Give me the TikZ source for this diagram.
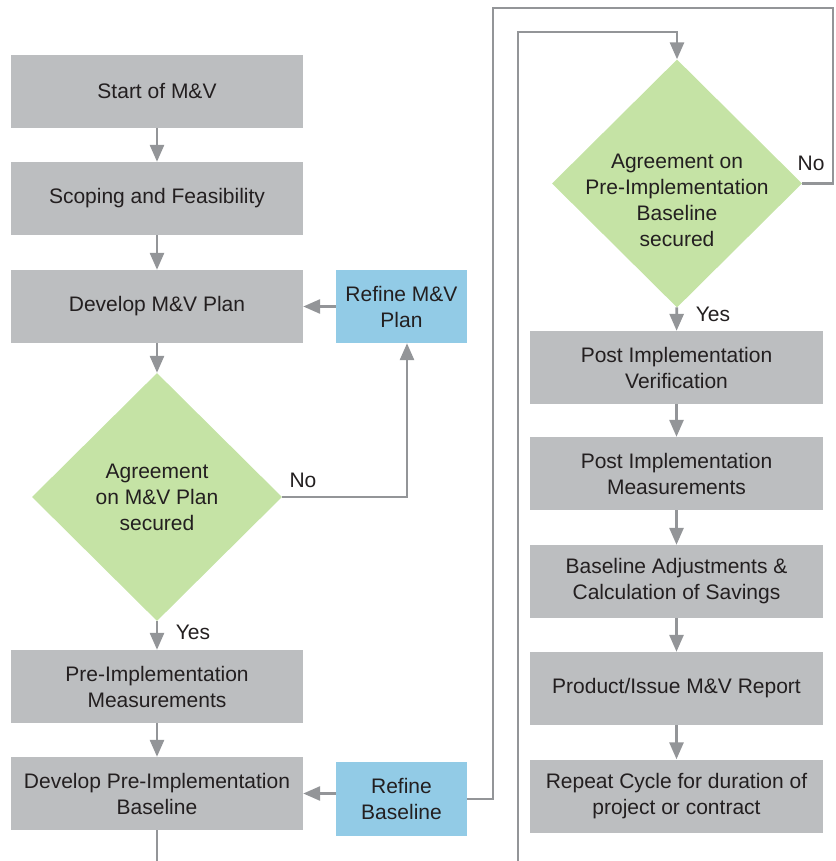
\documentclass[tikz,border=0pt]{standalone}
\usepackage{fontspec}
\setmainfont{Liberation Sans}
\usetikzlibrary{arrows.meta,shapes.geometric,positioning,calc}
\definecolor{boxgray}{RGB}{188,190,192}
\definecolor{diagreen}{RGB}{197,227,165}
\definecolor{refblue}{RGB}{146,203,230}
\definecolor{linegray}{RGB}{147,149,152}
\definecolor{txtgray}{RGB}{35,31,32}

\begin{document}
\begin{tikzpicture}[x=1pt, y=-1pt,
  every node/.style={font=\fontsize{21}{26}\selectfont, text=txtgray, align=center},
  box/.style={fill=boxgray, minimum width=292pt, minimum height=73pt, inner sep=0pt},
  refbox/.style={fill=refblue, minimum width=131pt, minimum height=73pt, inner sep=0pt},
  dia/.style={diamond, fill=diagreen, minimum width=250pt, minimum height=248pt, inner sep=0pt},
  arr/.style={draw=linegray, line width=2.8pt, -{Triangle[width=14pt,length=17pt]}},
  ln/.style={draw=linegray, line width=2.8pt}]
\useasboundingbox (0,0) rectangle (835,861);
\clip (0,0) rectangle (835,861);

\node[box] (start) at (157,91.5) {Start of M\&V};
\node[box] (scope) at (157,198.5) {Scoping and Feasibility};
\node[box] (plan) at (157,306.5) {Develop M\&V Plan};
\node[refbox] (refplan) at (401.5,306.5) {Refine M\&V\\Plan};
\node[dia] (agplan) at (157,497) {Agreement\\on M\&V Plan\\secured};
\node[box] (premeas) at (157,686.5) {Pre-Implementation\\Measurements};
\node[box] (prebase) at (157,793.5) {Develop Pre-Implementation\\Baseline};
\node[refbox, minimum height=74pt] (refbase) at (401.5,799) {Refine\\Baseline};

\node[dia] (agbase) at (677,183.5) {};
\node (agbasetxt) at (677,200) {Agreement on\\Pre-Implementation\\Baseline\\secured};
\node[box, minimum width=293pt] (postver) at (676.5,367.5) {Post Implementation\\Verification};
\node[box, minimum width=293pt] (postmeas) at (676.5,473.5) {Post Implementation\\Measurements};
\node[box, minimum width=293pt] (adjust) at (676.5,581.5) {Baseline Adjustments \&\\Calculation of Savings};
\node[box, minimum width=293pt] (report) at (676.5,688.5) {Product/Issue M\&V Report};
\node[box, minimum width=293pt] (repeat) at (676.5,796) {Repeat Cycle for duration of\\project or contract};

\coordinate (looptop) at (518,32);
\coordinate (nocorner) at (833,8);

\draw[arr] (start) -- (scope);
\draw[arr] (scope) -- (plan);
\draw[arr] (plan) -- (agplan);
\draw[arr] (refplan) -- (plan);
\draw[arr] (agplan.east) -| ([xshift=5.5pt]refplan.south);
\node (noplan) at (303,480) {No};
\draw[arr] (agplan) -- (premeas);
\node (yesplan) at (193,632) {Yes};
\draw[arr] (premeas) -- (prebase);
\draw[arr] (refbase.west |- prebase.east) -- (prebase.east);
\draw[arr] (prebase.south) -- ++(0,60) -| (looptop) -| (agbase.north);

\draw[ln] (agbase.east) -| (nocorner) -| (493,40) |- (refbase.east);
\node (nobase) at (811,163) {No};
\draw[arr] (agbase) -- (postver);
\node (yesbase) at (713,314) {Yes};
\draw[arr] (postver) -- (postmeas);
\draw[arr] (postmeas) -- (adjust);
\draw[arr] (adjust) -- (report);
\draw[arr] (report) -- (repeat);
\end{tikzpicture}
\end{document}
